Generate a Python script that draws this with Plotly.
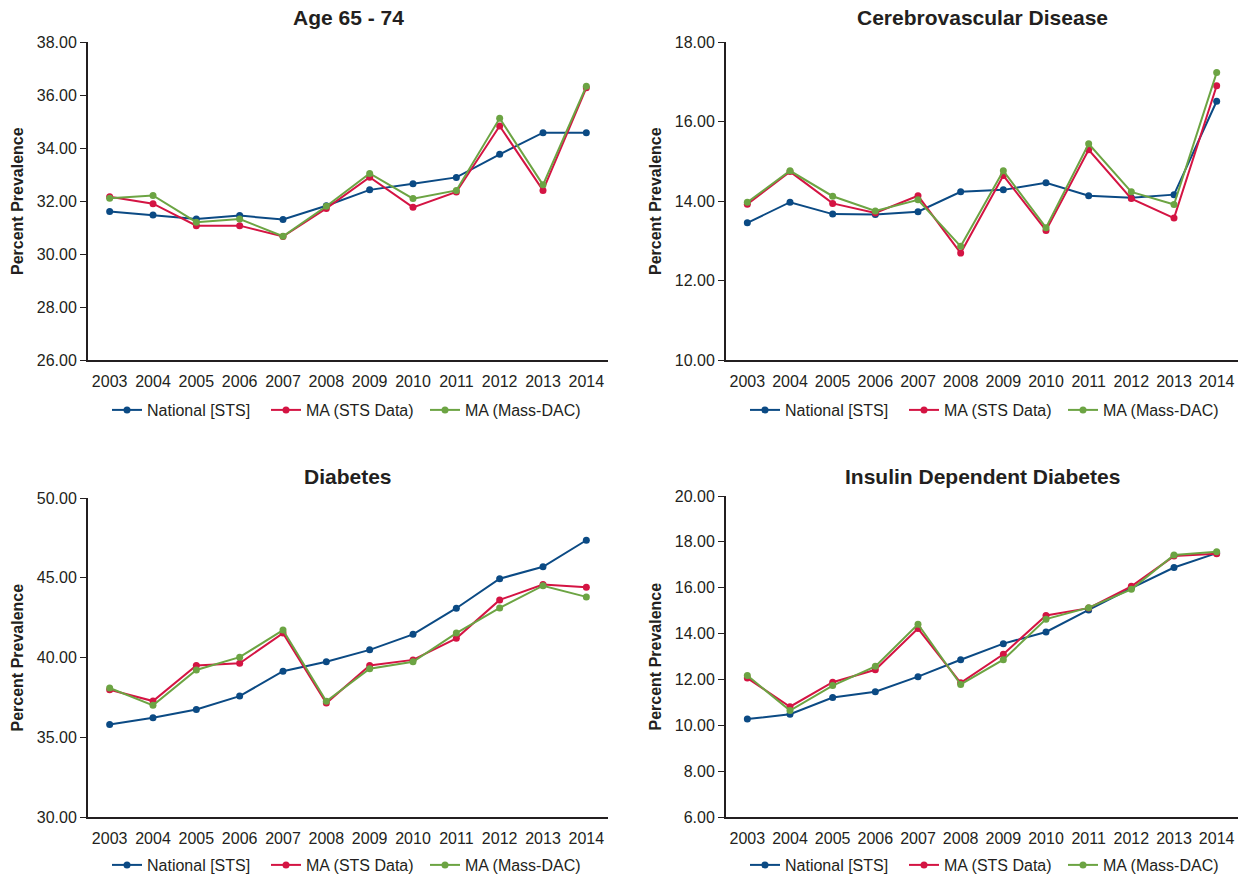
import plotly.graph_objects as go

years = ["2003", "2004", "2005", "2006", "2007", "2008", "2009", "2010", "2011", "2012", "2013", "2014"]
series_names = ["National [STS]", "MA (STS Data)", "MA (Mass-DAC)"]
colors = ["#0b4a84", "#d41443", "#6ca443"]

titles = ["Age 65 - 74", "Cerebrovascular Disease", "Diabetes", "Insulin Dependent Diabetes"]

age_national = [31.60, 31.47, 31.32, 31.45, 31.30, 31.82, 32.42, 32.65, 32.89, 33.76, 34.58, 34.58]
age_ma_sts = [32.16, 31.90, 31.07, 31.07, 30.66, 31.72, 32.90, 31.76, 32.34, 34.83, 32.40, 36.27]
age_ma_dac = [32.10, 32.21, 31.20, 31.32, 30.67, 31.80, 33.04, 32.09, 32.40, 35.12, 32.61, 36.33]

cvd_national = [13.45, 13.97, 13.67, 13.66, 13.73, 14.23, 14.28, 14.46, 14.13, 14.08, 14.16, 16.51]
cvd_ma_sts = [13.92, 14.74, 13.94, 13.70, 14.13, 12.69, 14.64, 13.26, 15.29, 14.06, 13.57, 16.90]
cvd_ma_dac = [13.97, 14.76, 14.12, 13.75, 14.03, 12.86, 14.76, 13.33, 15.44, 14.23, 13.91, 17.23]

dia_national = [35.80, 36.22, 36.74, 37.58, 39.14, 39.73, 40.48, 41.45, 43.09, 44.94, 45.69, 47.35]
dia_ma_sts = [37.98, 37.27, 39.50, 39.64, 41.53, 37.14, 39.50, 39.85, 41.20, 43.61, 44.58, 44.41]
dia_ma_dac = [38.09, 37.00, 39.22, 40.02, 41.72, 37.25, 39.29, 39.73, 41.53, 43.11, 44.50, 43.80]

idd_national = [10.27, 10.48, 11.21, 11.46, 12.12, 12.86, 13.56, 14.07, 15.03, 15.98, 16.88, 17.51]
idd_ma_sts = [12.06, 10.81, 11.88, 12.42, 14.22, 11.85, 13.10, 14.79, 15.11, 16.06, 17.38, 17.48]
idd_ma_dac = [12.17, 10.64, 11.73, 12.57, 14.41, 11.78, 12.86, 14.63, 15.13, 15.93, 17.43, 17.57]

panels_data = [
    [age_national, age_ma_sts, age_ma_dac],
    [cvd_national, cvd_ma_sts, cvd_ma_dac],
    [dia_national, dia_ma_sts, dia_ma_dac],
    [idd_national, idd_ma_sts, idd_ma_dac],
]
y_ranges = [(26, 38, 2), (10, 18, 2), (30, 50, 5), (6, 20, 2)]

W, H = 1247, 876
# pixel boxes: (left, right, top, bottom)
boxes = [
    (88, 608, 42, 360),
    (726, 1238, 42, 360),
    (88, 608, 498, 817),
    (726, 1238, 496, 817),
]
legend_y_px = [410, 410, 865, 865]
title_y_px = [18, 18, 477, 477]

FONT = "Liberation Sans, Arial, Helvetica, sans-serif"
AXIS_COLOR = "#231f20"
TEXT_COLOR = "#231f20"

fig = go.Figure()
layout = dict(
    width=W, height=H,
    margin=dict(l=0, r=0, t=0, b=0, autoexpand=False),
    paper_bgcolor="white", plot_bgcolor="white",
    font=dict(family=FONT, size=16, color=TEXT_COLOR),
    annotations=[],
)

for i in range(4):
    ax = "" if i == 0 else str(i + 1)
    leg = "legend" if i == 0 else f"legend{i + 1}"
    l, r, t, b = boxes[i]
    for j in range(3):
        fig.add_trace(go.Scatter(
            x=years, y=panels_data[i][j], name=series_names[j],
            mode="lines+markers",
            line=dict(color=colors[j], width=2),
            marker=dict(color=colors[j], size=7),
            xaxis="x" + ax, yaxis="y" + ax, legend=leg,
        ))
    lo, hi, step = y_ranges[i]
    layout["xaxis" + ax] = dict(
        domain=[l / W, r / W], anchor="y" + ax,
        type="category", range=[-0.5, 11.5], automargin=False,
        showline=True, linecolor=AXIS_COLOR, linewidth=2,
        showgrid=False, zeroline=False,
        ticks="outside", ticklen=6, tickcolor="rgba(0,0,0,0)",
        tickfont=dict(size=16, color=TEXT_COLOR),
    )
    layout["yaxis" + ax] = dict(
        domain=[1 - b / H, 1 - t / H], anchor="x" + ax,
        range=[lo, hi], dtick=step, tick0=lo, tickformat=".2f",
        automargin=False,
        showline=True, linecolor=AXIS_COLOR, linewidth=2,
        showgrid=False, zeroline=False,
        ticks="outside", ticklen=6, tickwidth=1, tickcolor=AXIS_COLOR,
        tickfont=dict(size=16, color=TEXT_COLOR),
    )
    layout[leg] = dict(
        orientation="h", x=(l + 19) / W, xanchor="left",
        y=1 - legend_y_px[i] / H, yanchor="middle",
        font=dict(size=16, color=TEXT_COLOR),
        bgcolor="rgba(0,0,0,0)",
        entrywidth=114, entrywidthmode="pixels",
        itemwidth=30,
    )
    layout["annotations"].append(dict(
        text=f"<b>{titles[i]}</b>", xref="paper", yref="paper",
        x=(l + r) / 2 / W, y=1 - title_y_px[i] / H,
        xanchor="center", yanchor="middle", showarrow=False,
        font=dict(size=21, color=TEXT_COLOR),
    ))
    layout["annotations"].append(dict(
        text="<b>Percent Prevalence</b>", xref="paper", yref="paper",
        x=(l - 71) / W, y=1 - (t + b) / 2 / H,
        xanchor="center", yanchor="middle", showarrow=False,
        textangle=-90, font=dict(size=16, color=TEXT_COLOR),
    ))

fig.update_layout(**layout)
fig.write_html("out.html")
